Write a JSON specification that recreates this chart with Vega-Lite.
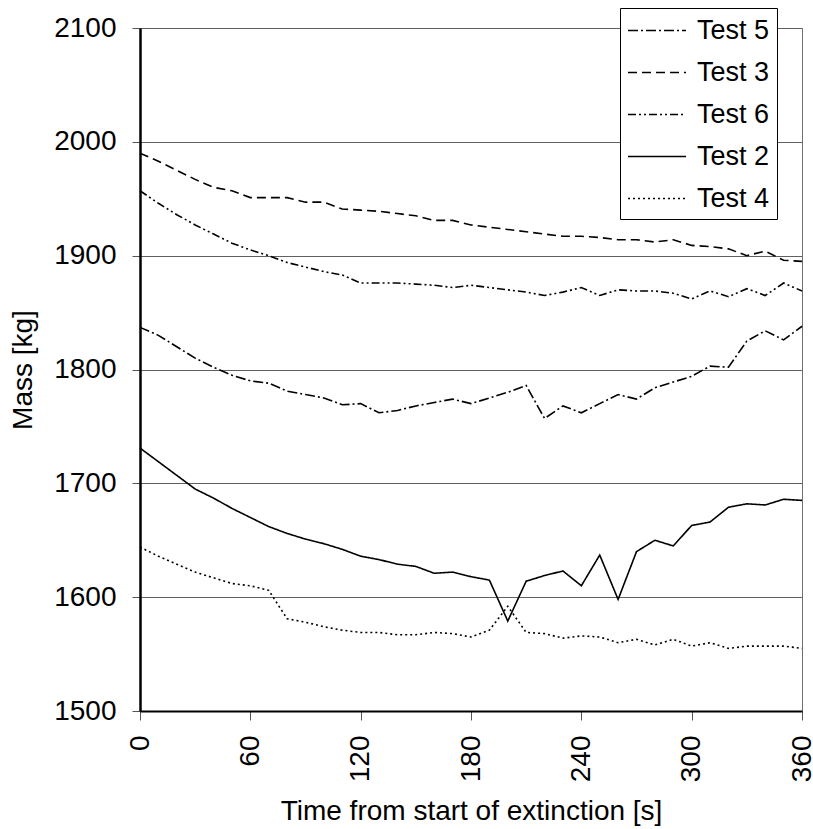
{
"$schema": "https://vega.github.io/schema/vega-lite/v6.json",
"width": 662, "height": 683,
"autosize": {"type": "none"},
"padding": {"left": 140, "top": 28, "right": 11, "bottom": 118},
"background": "white",
"config": {"font": "Liberation Sans", "view": {"stroke": "#707070", "strokeWidth": 1}},
"data": {"values": [
{"t":0,"Test 5":1837,"Test 3":1990,"Test 6":1957,"Test 2":1731,"Test 4":1644},
{"t":10,"Test 5":1830,"Test 3":1983,"Test 6":1946,"Test 2":1719,"Test 4":1636},
{"t":20,"Test 5":1820,"Test 3":1975,"Test 6":1936,"Test 2":1707,"Test 4":1629},
{"t":30,"Test 5":1810,"Test 3":1967,"Test 6":1927,"Test 2":1695,"Test 4":1622},
{"t":40,"Test 5":1802,"Test 3":1960,"Test 6":1919,"Test 2":1687,"Test 4":1617},
{"t":50,"Test 5":1795,"Test 3":1957,"Test 6":1911,"Test 2":1678,"Test 4":1612},
{"t":60,"Test 5":1790,"Test 3":1951,"Test 6":1905,"Test 2":1670,"Test 4":1610},
{"t":70,"Test 5":1788,"Test 3":1951,"Test 6":1900,"Test 2":1662,"Test 4":1606},
{"t":80,"Test 5":1781,"Test 3":1951,"Test 6":1894,"Test 2":1656,"Test 4":1581},
{"t":90,"Test 5":1778,"Test 3":1947,"Test 6":1890,"Test 2":1651,"Test 4":1578},
{"t":100,"Test 5":1775,"Test 3":1947,"Test 6":1886,"Test 2":1647,"Test 4":1574},
{"t":110,"Test 5":1769,"Test 3":1941,"Test 6":1883,"Test 2":1642,"Test 4":1571},
{"t":120,"Test 5":1770,"Test 3":1940,"Test 6":1876,"Test 2":1636,"Test 4":1569},
{"t":130,"Test 5":1762,"Test 3":1939,"Test 6":1876,"Test 2":1633,"Test 4":1569},
{"t":140,"Test 5":1764,"Test 3":1937,"Test 6":1876,"Test 2":1629,"Test 4":1567},
{"t":150,"Test 5":1768,"Test 3":1935,"Test 6":1875,"Test 2":1627,"Test 4":1567},
{"t":160,"Test 5":1771,"Test 3":1931,"Test 6":1874,"Test 2":1621,"Test 4":1569},
{"t":170,"Test 5":1774,"Test 3":1931,"Test 6":1872,"Test 2":1622,"Test 4":1568},
{"t":180,"Test 5":1770,"Test 3":1927,"Test 6":1874,"Test 2":1618,"Test 4":1565},
{"t":190,"Test 5":1775,"Test 3":1925,"Test 6":1872,"Test 2":1615,"Test 4":1571},
{"t":200,"Test 5":1780,"Test 3":1923,"Test 6":1870,"Test 2":1579,"Test 4":1592},
{"t":210,"Test 5":1786,"Test 3":1921,"Test 6":1868,"Test 2":1614,"Test 4":1569},
{"t":220,"Test 5":1757,"Test 3":1919,"Test 6":1865,"Test 2":1619,"Test 4":1568},
{"t":230,"Test 5":1768,"Test 3":1917,"Test 6":1868,"Test 2":1623,"Test 4":1564},
{"t":240,"Test 5":1762,"Test 3":1917,"Test 6":1872,"Test 2":1610,"Test 4":1566},
{"t":250,"Test 5":1770,"Test 3":1916,"Test 6":1865,"Test 2":1637,"Test 4":1565},
{"t":260,"Test 5":1778,"Test 3":1914,"Test 6":1870,"Test 2":1598,"Test 4":1560},
{"t":270,"Test 5":1774,"Test 3":1914,"Test 6":1869,"Test 2":1640,"Test 4":1563},
{"t":280,"Test 5":1784,"Test 3":1912,"Test 6":1869,"Test 2":1650,"Test 4":1558},
{"t":290,"Test 5":1789,"Test 3":1914,"Test 6":1867,"Test 2":1645,"Test 4":1563},
{"t":300,"Test 5":1794,"Test 3":1909,"Test 6":1862,"Test 2":1663,"Test 4":1557},
{"t":310,"Test 5":1803,"Test 3":1908,"Test 6":1869,"Test 2":1666,"Test 4":1560},
{"t":320,"Test 5":1802,"Test 3":1906,"Test 6":1864,"Test 2":1679,"Test 4":1555},
{"t":330,"Test 5":1825,"Test 3":1900,"Test 6":1871,"Test 2":1682,"Test 4":1557},
{"t":340,"Test 5":1834,"Test 3":1904,"Test 6":1865,"Test 2":1681,"Test 4":1557},
{"t":350,"Test 5":1826,"Test 3":1896,"Test 6":1876,"Test 2":1686,"Test 4":1557},
{"t":360,"Test 5":1838,"Test 3":1895,"Test 6":1869,"Test 2":1685,"Test 4":1555}
]},
"transform": [{"fold": ["Test 5","Test 3","Test 6","Test 2","Test 4"], "as": ["test","mass"]}],
"mark": {"type": "line", "color": "black", "strokeWidth": 1.6},
"encoding": {
  "x": {"field": "t", "type": "quantitative",
    "scale": {"domain": [0,360], "nice": false},
    "axis": {"values": [0,60,120,180,240,300,360], "labelAngle": -90, "grid": false,
      "title": "Time from start of extinction [s]", "labelFontSize": 28, "titleFontSize": 28,
      "titleFontWeight": "normal", "labelColor": "black", "titleColor": "black",
      "domainColor": "black", "domainWidth": 2, "tickColor": "#555555", "tickSize": 9,
      "labelPadding": 15, "titlePadding": 16, "labelFlush": false, "labelOverlap": false}},
  "y": {"field": "mass", "type": "quantitative",
    "scale": {"domain": [1500,2100], "nice": false, "zero": false},
    "axis": {"values": [1500,1600,1700,1800,1900,2000,2100], "format": "d", "title": "Mass [kg]",
      "grid": true, "gridColor": "#606060", "gridWidth": 1, "gridOpacity": 1,
      "labelFontSize": 28, "titleFontSize": 28, "titleFontWeight": "normal",
      "labelColor": "black", "titleColor": "black",
      "domainColor": "black", "domainWidth": 2.5, "tickColor": "#555555", "tickSize": 8,
      "labelPadding": 16, "titlePadding": 16, "labelFlush": false, "labelOverlap": false}},
  "strokeDash": {"field": "test", "type": "nominal",
    "scale": {"domain": ["Test 5","Test 3","Test 6","Test 2","Test 4"],
      "range": [[10,3,2,3],[9,5],[8,3,2,3,2,3],[1,0],[2,3]]},
    "legend": {"orient": "none", "legendX": 480, "legendY": -20, "title": null,
      "fillColor": "white", "strokeColor": "black", "padding": 7,
      "symbolType": "M-1,0H3", "symbolSize": 841, "symbolStrokeWidth": 1.5,
      "symbolStrokeColor": "black", "symbolFillColor": "transparent",
      "labelFontSize": 27, "labelColor": "black",
      "labelOffset": 39, "rowPadding": 13}}
}
}
